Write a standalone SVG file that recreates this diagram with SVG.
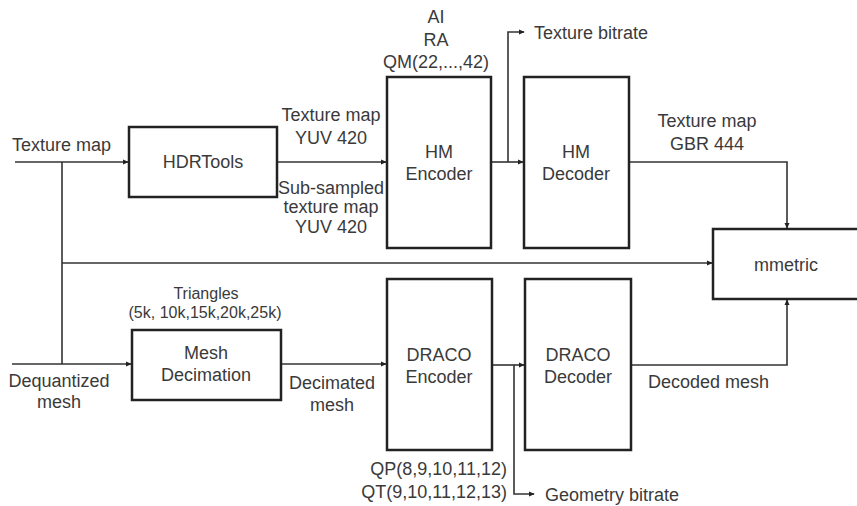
<svg xmlns="http://www.w3.org/2000/svg" width="857" height="506" viewBox="0 0 857 506">
<defs>
<marker id="ah" viewBox="0 0 8 8" refX="7" refY="4" markerWidth="6" markerHeight="6" markerUnits="userSpaceOnUse" orient="auto">
<path d="M0,0.5 L8,4 L0,7.5 Z" fill="#222"/>
</marker>
<style>
.box{fill:#fff;stroke:#222;stroke-width:2.5}
.ln{fill:none;stroke:#333;stroke-width:1.6}
.t{font-family:"Liberation Sans",Arial,sans-serif;font-size:18px;fill:#3a3a3a}
.s{font-size:16px}
.c{text-anchor:middle}
.e{text-anchor:end}
</style>
</defs>
<rect width="857" height="506" fill="#fff"/>
<g id="connectors">
<path class="ln" d="M15,162 H128" marker-end="url(#ah)"/>
<path class="ln" d="M62,162 V364"/>
<path class="ln" d="M62,263 H712" marker-end="url(#ah)"/>
<path class="ln" d="M277,162 H386" marker-end="url(#ah)"/>
<path class="ln" d="M491,162 H523" marker-end="url(#ah)"/>
<path class="ln" d="M508,162 V32 H524" marker-end="url(#ah)"/>
<path class="ln" d="M629,162 H787 V228" marker-end="url(#ah)"/>
<path class="ln" d="M12,364 H131" marker-end="url(#ah)"/>
<path class="ln" d="M281,364 H386" marker-end="url(#ah)"/>
<path class="ln" d="M492,365 H524" marker-end="url(#ah)"/>
<path class="ln" d="M514,365 V494 H534" marker-end="url(#ah)"/>
<path class="ln" d="M631,365 H787 V300" marker-end="url(#ah)"/>
</g>
<g id="labels">
<text class="t" x="12" y="151">Texture map</text>
<text class="t c" x="331" y="121">Texture map</text>
<text class="t c" x="331" y="144">YUV 420</text>
<text class="t c" x="331" y="194">Sub-sampled</text>
<text class="t c" x="331" y="213">texture map</text>
<text class="t c" x="331" y="233">YUV 420</text>
<text class="t c" x="436" y="23">AI</text>
<text class="t c" x="436" y="46">RA</text>
<text class="t c" x="436" y="68">QM(22,...,42)</text>
<text class="t" x="534" y="39">Texture bitrate</text>
<text class="t c" x="707" y="127">Texture map</text>
<text class="t c" x="707" y="150">GBR 444</text>
<text class="t s c" x="206" y="299">Triangles</text>
<text class="t s c" x="205" y="318">(5k, 10k,15k,20k,25k)</text>
<text class="t c" x="59" y="387">Dequantized</text>
<text class="t c" x="59" y="408">mesh</text>
<text class="t c" x="332" y="389">Decimated</text>
<text class="t c" x="332" y="411">mesh</text>
<text class="t" x="648" y="388">Decoded mesh</text>
<text class="t e" x="507" y="475">QP(8,9,10,11,12)</text>
<text class="t e" x="507" y="498">QT(9,10,11,12,13)</text>
<text class="t" x="545" y="501">Geometry bitrate</text>
</g>
<g id="hdrtools">
<rect class="box" x="129" y="127" width="148" height="70"/>
<text class="t c" x="203" y="168">HDRTools</text>
</g>
<g id="hm-encoder">
<rect class="box" x="387" y="77" width="104" height="171"/>
<text class="t c" x="439" y="158">HM</text>
<text class="t c" x="439" y="180">Encoder</text>
</g>
<g id="hm-decoder">
<rect class="box" x="524" y="77" width="105" height="171"/>
<text class="t c" x="576" y="158">HM</text>
<text class="t c" x="576" y="180">Decoder</text>
</g>
<g id="mmetric">
<rect class="box" x="713" y="229" width="160" height="70"/>
<text class="t c" x="786" y="271">mmetric</text>
</g>
<g id="mesh-decimation">
<rect class="box" x="132" y="330" width="149" height="70"/>
<text class="t c" x="206" y="359">Mesh</text>
<text class="t c" x="206" y="381">Decimation</text>
</g>
<g id="draco-encoder">
<rect class="box" x="387" y="279" width="105" height="171"/>
<text class="t c" x="439" y="361">DRACO</text>
<text class="t c" x="439" y="383">Encoder</text>
</g>
<g id="draco-decoder">
<rect class="box" x="525" y="279" width="106" height="171"/>
<text class="t c" x="578" y="361">DRACO</text>
<text class="t c" x="578" y="383">Decoder</text>
</g>
</svg>
